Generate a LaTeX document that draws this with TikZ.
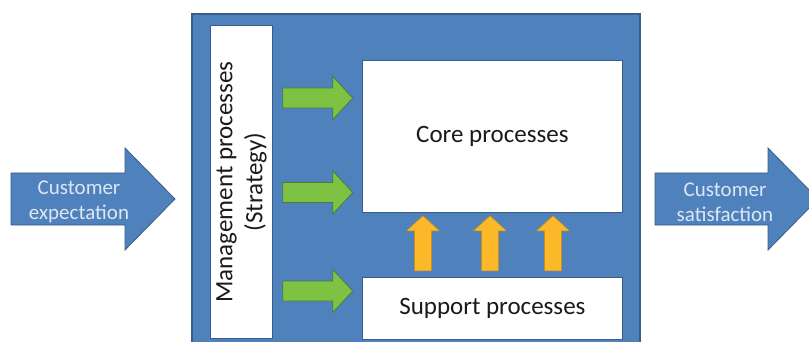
\documentclass[tikz,border=0pt]{standalone}
\usepackage{fontspec}
\setmainfont{Carlito}
\usetikzlibrary{positioning}
\definecolor{boxblue}{HTML}{4F81BD}
\definecolor{edgeblue}{HTML}{385D8A}
\definecolor{arrowgreen}{HTML}{7DC243}
\definecolor{edgegreen}{HTML}{4C7A3A}
\definecolor{arrowyellow}{HTML}{FBB829}
\definecolor{edgeyellow}{HTML}{C98F1C}
\definecolor{paletext}{HTML}{DDE7F3}
\definecolor{inktext}{HTML}{1A1A1A}

\tikzset{
  procbox/.style={draw=edgeblue, line width=0.8pt, fill=white, inner sep=0pt,
                  text=inktext, font=\fontsize{25}{30}\selectfont},
  bluearrow/.style={draw=edgeblue, line width=0.8pt, fill=boxblue},
  greenarrow/.style={draw=edgegreen, line width=0.8pt, fill=arrowgreen},
  yellowarrow/.style={draw=edgeyellow, line width=0.6pt, fill=arrowyellow},
  arrowtext/.style={text=paletext, align=center, inner sep=0pt,
                    font=\fontsize{21}{25}\selectfont}
}

\begin{document}
\begin{tikzpicture}[x=1pt, y=-1pt]
\clip (0,0) rectangle (809,342);
\fill[white] (0,0) rectangle (809,342);
% frame
\draw[bluearrow, line width=1.2pt] (192,14) rectangle (640,350);
\node[procbox, minimum width=62pt, minimum height=313pt, anchor=north west] (mgmt) at (210,25) {};
\node[rotate=90, align=center, text=inktext, font=\fontsize{25}{30}\selectfont] (mgmtlabel)
     at (mgmt.center) {Management processes\\(Strategy)};
\node[procbox, minimum width=260pt, minimum height=152pt, anchor=north west] (core) at (362,60) {Core processes};
\node[procbox, minimum width=260pt, minimum height=62pt, below=64pt of core] (support) {Support processes};
% management arrows
\foreach \y in {98,192.5,291}
  \draw[greenarrow] (mgmt.east |- 0,\y) ++(10,-10) -- ++(50,0) -- ++(0,-11.5)
        -- ++(20,21.5) -- ++(-20,21.5) -- ++(0,-11.5) -- ++(-50,0) -- cycle;
% support arrows
\foreach \x in {423,490,553}
  \draw[yellowarrow] (\x,0 |- support.north) ++(-8.5,-6) -- ++(0,-40) -- ++(-8,0)
        -- ++(16.5,-15) -- ++(16.5,15) -- ++(-8,0) -- ++(0,40) -- cycle;
% customer arrows
\draw[bluearrow] (11,173) -- ++(114,0) -- ++(0,-25) -- ++(50,51)
                 -- ++(-50,51) -- ++(0,-25) -- ++(-114,0) -- cycle;
\node[arrowtext] (expect) at (79,202) {Customer\\expectation};
\draw[bluearrow] (655,173) -- ++(113,0) -- ++(0,-25) -- ++(50,51)
                 -- ++(-50,51) -- ++(0,-25) -- ++(-113,0) -- cycle;
\node[arrowtext] (satisf) at (725,202) {Customer\\satisfaction};
\end{tikzpicture}
\end{document}
